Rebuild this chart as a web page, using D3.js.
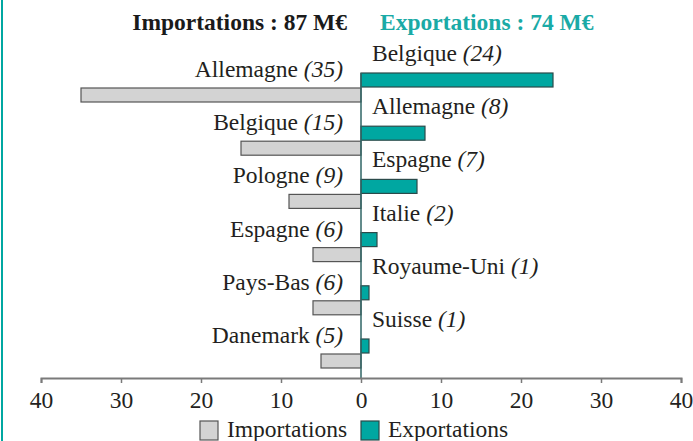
<!DOCTYPE html>
<html>
<head>
<meta charset="utf-8">
<script src="https://cdn.jsdelivr.net/npm/d3@7"></script>
<style>
  html, body { margin: 0; padding: 0; background: #fff; }
  svg { display: block; }
</style>
</head>
<body>
<svg id="chart" width="693" height="441"></svg>
<script>
// Trade partners, values in M€
const importCountries = ["Allemagne", "Belgique", "Pologne", "Espagne", "Pays-Bas", "Danemark"];
const importValues = [35, 15, 9, 6, 6, 5];
const exportCountries = ["Belgique", "Allemagne", "Espagne", "Italie", "Royaume-Uni", "Suisse"];
const exportValues = [24, 8, 7, 2, 1, 1];
const tickValues = [-40, -30, -20, -10, 0, 10, 20, 30, 40];
const importTotal = 87;
const exportTotal = 74;

const TEAL = "#00a7a1";
const GREY = "#d3d3d3";
const FS = 23.5;
const FONT = "Liberation Serif";

const svg = d3.select("#chart");

// Left border rule
svg.append("rect").attr("x", 1).attr("y", 0).attr("width", 2).attr("height", 441).attr("fill", TEAL);

const x = d3.scaleLinear().domain([-40, 40]).range([41, 681]);
const rows = d3.scaleBand().domain(d3.range(6)).range([73, 73 + 53.2 * 6]);
const barH = 14;
const axisY = 378;

// Titles
svg.append("text")
  .attr("x", 347).attr("y", 30).attr("text-anchor", "end")
  .style("font-family", FONT).style("font-weight", "bold").style("font-size", FS + "px")
  .attr("fill", "#1a1a1a")
  .text(`Importations : ${importTotal} M€`);
svg.append("text")
  .attr("x", 380).attr("y", 30)
  .style("font-family", FONT).style("font-weight", "bold").style("font-size", FS + "px")
  .attr("fill", "#1aaaa6")
  .text(`Exportations : ${exportTotal} M€`);

// Export bars (above) and import bars (below) per row
svg.append("g").selectAll("rect").data(exportValues).join("rect")
  .attr("x", x(0)).attr("y", (d, i) => rows(i))
  .attr("width", d => x(d) - x(0)).attr("height", barH)
  .attr("fill", TEAL).attr("stroke", "#2b4a4a").attr("stroke-width", 1.2);

svg.append("g").selectAll("rect").data(importValues).join("rect")
  .attr("x", d => x(-d)).attr("y", (d, i) => rows(i) + 15)
  .attr("width", d => x(0) - x(-d)).attr("height", barH)
  .attr("fill", GREY).attr("stroke", "#555").attr("stroke-width", 1.2);

// Country labels with value in italics
function label(g, name, value, xPos, yPos, anchor) {
  const t = g.append("text")
    .attr("x", xPos).attr("y", yPos).attr("text-anchor", anchor)
    .style("font-family", FONT).style("font-size", FS + "px").attr("fill", "#231f20");
  t.append("tspan").text(name + " ");
  t.append("tspan").style("font-style", "italic").text(`(${value})`);
}
const expLab = svg.append("g");
exportCountries.forEach((c, i) => label(expLab, c, exportValues[i], 372, rows(i) - 12, "start"));
const impLab = svg.append("g");
importCountries.forEach((c, i) => label(impLab, c, importValues[i], 343, rows(i) + 4, "end"));

// Zero line
svg.append("line")
  .attr("x1", x(0)).attr("x2", x(0))
  .attr("y1", rows(0)).attr("y2", axisY)
  .attr("stroke", "#2f6464").attr("stroke-width", 1.5);

// Bottom axis, labels shown as absolute values
const axis = d3.axisBottom(x).tickValues(tickValues)
  .tickFormat(d => Math.abs(d)).tickSize(5).tickPadding(8);
const ag = svg.append("g").attr("transform", `translate(0,${axisY})`).call(axis);
ag.select(".domain").attr("stroke", "#7a7a7a").attr("stroke-width", 2);
ag.selectAll(".tick line").attr("stroke", "#7a7a7a").attr("stroke-width", 1.5);
ag.selectAll(".tick text")
  .style("font-family", FONT).style("font-size", FS + "px").attr("fill", "#231f20");

// Legend
const legend = [
  { label: "Importations", fill: GREY, stroke: "#555", x: 200 },
  { label: "Exportations", fill: TEAL, stroke: "#2b4a4a", x: 361 }
];
const lg = svg.append("g");
legend.forEach(l => {
  lg.append("rect").attr("x", l.x).attr("y", 421).attr("width", 18).attr("height", 19)
    .attr("fill", l.fill).attr("stroke", l.stroke).attr("stroke-width", 1.2);
  lg.append("text").attr("x", l.x + 27).attr("y", 437)
    .style("font-family", FONT).style("font-size", FS + "px").attr("fill", "#231f20")
    .text(l.label);
});
</script>
</body>
</html>
